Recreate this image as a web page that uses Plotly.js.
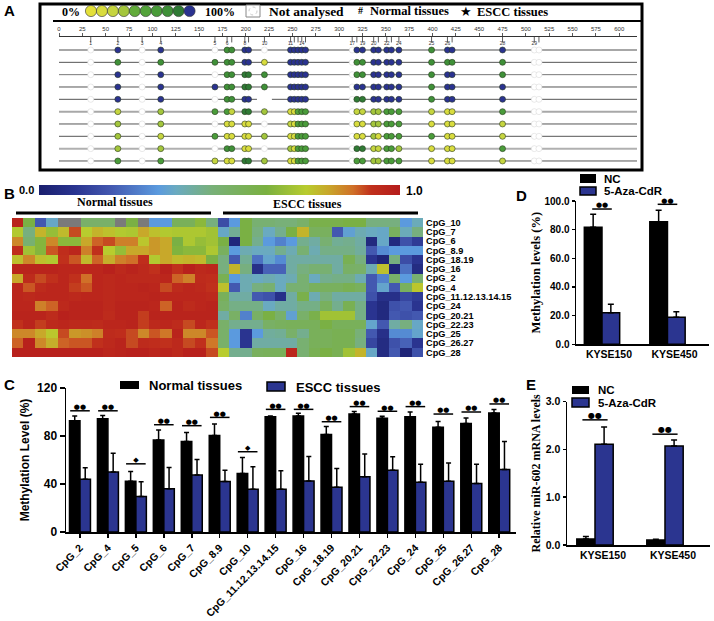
<!DOCTYPE html>
<html><head><meta charset="utf-8">
<script src="https://cdn.plot.ly/plotly-3.0.1.min.js"></script>
<style>html,body{margin:0;padding:0;background:#fff}</style></head>
<body><div id="chart" style="width:714px;height:621px"></div>
<script>
const W=714,H=621;
/* ---- Panel A data ---- */
const sites=[34,63,89,109,167,180,185,199,203,220,248,252,256,260,264,314,319,325,337,342,351,356,364,399,416,421,475,509,514];
const siteLabels=['1','2','3','4','5','6','','8','','10','11','','','14','','17','','19','20','','22','','24','25','26','','28','29',''];
const N=-1,X=null;
const lolliRows=[
[N,9,N,9,N,7,7,9,9,N,9,9,9,9,9,N,9,9,9,9,9,9,9,7,9,9,9,N,N],
[N,7,N,7,7,7,7,9,9,1,9,9,9,9,9,N,7,7,9,9,9,9,9,7,7,7,7,N,N],
[N,9,N,9,N,7,7,8,8,7,9,9,9,9,9,N,7,7,9,9,9,9,9,7,9,9,7,N,N],
[N,9,N,9,9,7,7,8,8,7,9,9,9,9,9,N,9,9,9,9,9,9,9,7,9,9,9,N,N],
[N,9,N,9,N,7,7,9,9,X,9,9,9,9,9,N,8,8,9,9,9,9,9,7,9,9,9,N,N],
[N,2,N,3,6,6,2,8,8,3,1,1,5,6,6,N,2,2,3,3,6,6,6,2,1,1,6,N,N],
[N,3,N,3,N,1,1,1,1,N,2,1,6,6,6,N,1,1,3,3,6,6,6,1,1,1,2,N,N],
[N,3,N,2,6,1,1,1,1,3,1,1,6,6,6,N,1,1,3,1,6,6,6,6,1,1,2,N,N],
[N,3,N,3,N,7,7,1,1,N,3,1,6,6,6,N,8,8,2,2,6,6,3,1,1,1,6,N,N],
[N,6,N,6,2,1,1,8,8,3,1,1,6,6,6,N,6,6,3,3,6,6,6,1,1,1,2,N,N]];
const rowMarks=['#','#','#','#','#','★','★','★','★','★'];
const rowGrey=['#8a8a8a','#555','#777','#555','#555','#a8a8a8','#555','#555','#b0b0b0','#555'];
const rowWidth=[1.5,1,1,1,1,2,1,1,2,1];
const methPalette=['#e4e03a','#d9dc3e','#c6d53f','#a4c63c','#62ab3a','#53a33a','#4a9c3a','#3f9038','#2f7a35','#2a3290'];
/* ---- Panel B data ---- */
const cpgB=['CpG_10','CpG_7','CpG_6','CpG_8.9','CpG_18.19','CpG_16','CpG_2','CpG_4','CpG_11.12.13.14.15','CpG_24','CpG_20.21','CpG_22.23','CpG_25','CpG_26.27','CpG_28'];
const normalZ=[
[.97,.62,.2,.37,X,X,.52,.52,.52,X,.62,X,.33,.33,.56,.56,.66,.47],
[.73,.47,.78,.68,.77,.9,.74,.78,.76,.73,.72,.8,.76,.73,.72,.72,.72,.7],
[.84,.5,.65,.84,.66,.66,.8,.88,.9,.85,.85,.75,.82,.8,.62,.72,.68,.7],
[.93,.7,.65,.89,.93,.96,.85,.92,.74,.68,.8,.8,.82,.8,.64,.66,.66,.72],
[.76,.84,.76,.73,.92,.89,.77,.88,.79,.85,.87,.93,.73,.8,.77,.78,.77,.62],
[.97,.97,.97,.97,.96,.96,.96,.96,.98,.95,.97,.95,.92,.98,.92,.98,.95,.96],
[.8,.94,.9,.92,.96,.92,.87,.96,.95,.96,.95,.95,.95,.96,.88,.85,.94,.93],
[.96,.89,.94,.96,.96,.91,.89,.96,.95,.96,.96,.97,.96,.9,.94,.96,.95,.92],
[.96,.95,.96,.96,.96,.95,.96,.96,.95,.96,.96,.96,.97,.96,.96,.96,.96,.95],
[.96,.96,.85,.88,.95,.97,.97,.97,.95,.97,.97,.97,.96,.88,.97,.94,.96,.97],
[.97,.97,.97,.94,.98,.97,.97,.97,.94,.97,.97,.91,.97,.97,.97,.97,.97,.97],
[.92,.97,.91,.95,.96,.95,.95,.94,.96,.96,.97,.91,.95,.96,.94,.9,.96,.92],
[.84,.84,.8,.75,.9,.82,.83,.85,.94,.93,.9,.84,.89,.86,.97,.84,.84,.89],
[.88,.98,.84,.79,.88,.89,.89,.92,.95,.97,.9,.94,.93,.92,.95,.9,.92,.86],
[.98,.98,.98,.98,.98,.98,.98,.98,.96,.97,.98,.98,.96,.97,.95,.98,.98,.9]];
const esccZ=[
[.17,.33,.62,.5,.5,.48,.48,.52,.6,.6,.6,.62,.62,.47,.47,.47,.33,.39],
[.37,.44,.62,.47,.38,.45,.62,.78,.55,.55,.2,.35,.4,.38,.37,.55,.39,.47],
[.62,.04,.62,.45,.33,.28,.33,.45,.42,.5,.44,.45,.42,.05,.37,.05,.18,.12],
[.55,.33,.4,.38,.38,.45,.4,.5,.4,.46,.46,.46,.43,.2,.3,.33,.33,.33],
[.47,.2,.44,.25,.36,.3,.42,.42,.42,.42,.42,.58,.47,.1,.03,.47,.17,.1],
[.47,.78,.47,.08,.22,.22,.42,.47,.5,.5,.42,.53,.52,.4,.76,.03,.25,.06],
[.58,.33,.4,.38,.4,.38,.4,.5,.38,.45,.46,.46,.4,.2,.28,.52,.33,.5],
[.76,.2,.4,.47,.5,.38,.5,.5,.55,.55,.55,.58,.55,.2,.36,.2,.55,.75],
[.56,.42,.42,.2,.18,.08,.42,.6,.4,.47,.42,.42,.42,.18,.08,.08,.15,.12],
[.53,.46,.46,.46,.38,.42,.42,.46,.46,.55,.45,.58,.46,.1,.05,.18,.2,.1],
[.42,.53,.28,.53,.62,.52,.35,.52,.6,.7,.7,.7,.46,.1,.05,.2,.18,.2],
[.52,.45,.45,.45,.53,.55,.56,.56,.56,.62,.56,.56,.56,.36,.2,.42,.47,.37],
[.52,.33,.1,.33,.43,.44,.52,.45,.56,.56,.58,.58,.48,.2,.08,.3,.3,.36],
[.52,.33,.1,.42,.42,.42,.42,.5,.56,.56,.58,.58,.47,.15,.06,.18,.22,.1],
[.74,.45,.45,.55,.56,.56,.96,.5,.58,.62,.58,.7,.78,.37,.06,.2,.03,.18]];
const heatScale=[[0,'#1a1f6e'],[.1,'#2a3490'],[.2,'#4358b0'],[.33,'#5b9ade'],[.38,'#6aaac0'],[.48,'#78b078'],[.63,'#7ab040'],[.74,'#b8cc2e'],[.8,'#c8a82a'],[.87,'#d07028'],[.92,'#c0301c'],[1,'#b51c1c']];
/* ---- Panel C data ---- */
const cpgC=['CpG_2','CpG_4','CpG_5','CpG_6','CpG_7','CpG_8.9','CpG_10','CpG_11.12.13.14.15','CpG_16','CpG_18.19','CpG_20.21','CpG_22.23','CpG_24','CpG_25','CpG_26.27','CpG_28'];
const normalMeth=[92.8,94.4,42.3,76.6,75.5,80.5,48.7,96,96.7,81.3,98.3,94.7,96,87.2,90.5,99.2];
const normalErr=[3.9,2.6,8.1,8.4,7.5,9.5,13.3,.7,2.3,6.7,2.2,1.7,4,4.8,4.5,2.8];
const esccMeth=[44,50,29.5,36,47.4,42,35.7,35.7,42.6,37.3,46,51.5,41.5,42.3,40.4,52];
const esccErr=[9.5,15.7,12.3,17.8,13,9.5,18.6,15.3,20.4,15.7,19,11.2,15,15.1,16.1,23.4];
const sigC=[101,101,56.8,89.4,88.6,95.5,66.9,102.2,102.2,91.9,104.5,100.6,104.5,98.3,100,106.7];
const sigCMark=['●●','●●','◆','●●','●●','●●','◆','●●','●●','●●','●●','●●','●●','●●','●●','●●'];
/* ---- Panels D, E data ---- */
const lines=['KYSE150','KYSE450'];
const ncD=[81.6,85.6],ncDErr=[9.1,7.9],azaD=[22.1,18.8],azaDErr=[5.8,4],sigD=[94.4,97.7];
const ncE=[.126,.105],ncEErr=[.05,.015],azaE=[2.11,2.07],azaEErr=[.36,.13],sigE=[2.62,2.32];

/* ---- helpers ---- */
const NAVY='#2b3590';
const px=x=>x/W, py=y=>1-y/H;
const sans='"Liberation Sans",Arial,sans-serif', serif='"Liberation Serif","Times New Roman",serif';
const T=(x,y,text,size,o={})=>({xref:'paper',yref:'paper',x:px(x),y:py(y),text,showarrow:false,xanchor:o.anchor||'left',yanchor:'middle',
  font:{family:o.family||sans,size,color:o.color||'#000',weight:o.weight===undefined?700:o.weight},borderpad:0,textangle:o.angle||0});
const R=(x0,y0,x1,y1,fill,lw=0,lc='#000')=>({type:'rect',xref:'paper',yref:'paper',x0:px(x0),x1:px(x1),y0:py(y0),y1:py(y1),fillcolor:fill,line:{width:lw,color:lc}});
const L=(x0,y0,x1,y1,w)=>({type:'line',xref:'paper',yref:'paper',x0:px(x0),x1:px(x1),y0:py(y0),y1:py(y1),line:{width:w,color:'#000'}});
const C=(cx,cy,r,fill,lc,lw,dash)=>({type:'circle',xref:'paper',yref:'paper',x0:px(cx-r),x1:px(cx+r),y0:py(cy+r),y1:py(cy-r),fillcolor:fill,line:{color:lc,width:lw,dash:dash||'solid'}});
const dom=(a,b)=>[a/W,b/W], vdom=(a,b)=>[1-b/H,1-a/H];

const traces=[];
/* A */
lolliRows.forEach((r,i)=>{
  const brk=r.indexOf(null);
  const lx=brk<0?[0,619]:[0,sites[brk]-8,null,sites[brk]+8,619];
  traces.push({type:'scatter',mode:'lines',x:lx,y:lx.map(v=>v===null?null:i+1),xaxis:'x',yaxis:'y',line:{color:rowGrey[i],width:rowWidth[i]},hoverinfo:'skip',showlegend:false});
});
lolliRows.forEach((r,i)=>{
  traces.push({type:'scatter',mode:'markers',x:sites,y:r.map(v=>v===null?null:i+1),xaxis:'x',yaxis:'y',showlegend:false,
    marker:{size:6,color:r.map(v=>v===N||v===null?'#ffffff':methPalette[v]),line:{width:r.map(v=>v===N?.6:.6),color:r.map(v=>v===N?'#dadada':'#2a3a20')}}});
});
traces.push({type:'scatter',mode:'markers',x:sites,y:sites.map(()=>0.16),xaxis:'x',yaxis:'y',showlegend:false,hoverinfo:'skip',
  marker:{symbol:'line-ns',size:4,line:{width:.8,color:'#333'}}});
traces.push({type:'scatter',mode:'text',x:sites,y:sites.map(()=>.5),text:siteLabels,xaxis:'x',yaxis:'y',showlegend:false,hoverinfo:'skip',
  textposition:'middle center',textfont:{size:5,family:sans,color:'#333'},cliponaxis:false});
traces.push({type:'scatter',mode:'text',x:rowMarks.map(()=>-9.5),y:rowMarks.map((m,i)=>i+1),text:rowMarks,xaxis:'x',yaxis:'y',showlegend:false,hoverinfo:'skip',
  textposition:'middle center',textfont:{size:11,family:'"DejaVu Sans"',color:'#000'},cliponaxis:false});
/* B */
traces.push({type:'heatmap',xaxis:'x2',yaxis:'y2',y:cpgB,x:normalZ[0].concat(esccZ[0]).map((_,i)=>i),
  z:normalZ.map((r,i)=>r.concat(esccZ[i])),zmin:0,zmax:1,colorscale:heatScale,hoverongaps:false,
  colorbar:{orientation:'h',x:px(39),xanchor:'left',y:py(195),yanchor:'bottom',len:361,lenmode:'pixels',thickness:10,xpad:0,ypad:0,outlinewidth:0,borderwidth:0,showticklabels:false,ticks:''}});
/* bars */
function barPair(xa,ya,cats,v1,e1,v2,e2,w,errw){
  const mk=(v,e,col,off)=>({type:'bar',x:cats,y:v,width:w,offset:off,xaxis:xa,yaxis:ya,showlegend:false,
    marker:{color:col,line:{color:'#000',width:1.5}},
    error_y:{type:'data',symmetric:false,array:e,arrayminus:e.map(()=>0),color:'#000',thickness:1.5,width:errw}});
  traces.push(mk(v1,e1,'#000',-w),mk(v2,e2,NAVY,0));
}
function sig(xa,ya,cats,lv,marks,len,fs){
  traces.push({type:'scatter',mode:'markers',x:cats,y:lv,xaxis:xa,yaxis:ya,showlegend:false,hoverinfo:'skip',cliponaxis:false,
    marker:{symbol:'line-ew',size:len,line:{width:1.5,color:'#000'}}});
  traces.push({type:'scatter',mode:'text',x:cats,y:lv,text:marks,xaxis:xa,yaxis:ya,showlegend:false,hoverinfo:'skip',cliponaxis:false,
    textposition:'top center',textfont:{size:fs,family:'"DejaVu Sans"',color:'#000'}});
}
barPair('x3','y3',cpgC,normalMeth,normalErr,esccMeth,esccErr,.375,2.5);
sig('x3','y3',cpgC,sigC,sigCMark,14,7);
barPair('x4','y4',lines,ncD,ncDErr,azaD,azaDErr,.27,3);
sig('x4','y4',lines,sigD,['●●','●●'],14,7);
barPair('x5','y5',lines,ncE,ncEErr,azaE,azaEErr,.26,3);
sig('x5','y5',lines,sigE,['●●','●●'],18,8);

/* layout */
const hidden={visible:false,showgrid:false,zeroline:false};
const yBold=s=>({family:sans,size:s,color:'#000',weight:700});
const barY=(dm,rng,vals,txt,fs,tl,titleText,tfam,tsize,st,anchor)=>({domain:dm,range:rng,anchor,tickvals:vals,ticktext:txt,tickfont:yBold(fs),showgrid:false,zeroline:false,
  showline:true,linecolor:'#000',linewidth:1.5,ticks:'outside',ticklen:tl,tickwidth:1.5,tickcolor:'#000',
  title:{text:titleText,font:{family:tfam,size:tsize,color:'#000',weight:700},standoff:st}});
const layout={width:W,height:H,margin:{l:0,r:0,t:0,b:0},paper_bgcolor:'#fff',plot_bgcolor:'rgba(0,0,0,0)',barmode:'overlay',showlegend:false,
 xaxis:{domain:dom(59,637),range:[0,619],anchor:'y',side:'top',dtick:25,tick0:0,ticks:'outside',ticklen:3,tickwidth:.8,tickcolor:'#333',showline:true,linecolor:'#333',linewidth:1,
   showgrid:false,zeroline:false,tickfont:{size:6,family:sans,color:'#333'}},
 yaxis:{domain:vdom(37,168),range:[10.57,-.054],anchor:'x',...hidden},
 xaxis2:{domain:dom(12,423),range:[-.5,35.5],anchor:'y2',...hidden},
 yaxis2:{domain:vdom(218,357),autorange:'reversed',anchor:'x2',side:'right',type:'category',dtick:1,tickmode:'linear',showgrid:false,zeroline:false,ticks:'',ticklen:0,ticklabelstandoff:2,
   tickfont:yBold(9.2),automargin:false},
 xaxis3:{domain:dom(66,516),range:[-.5,15.6],anchor:'y3',type:'category',categoryorder:'array',categoryarray:cpgC,tickangle:-45,tickfont:yBold(10.5),showgrid:false,zeroline:false,
   showline:true,linecolor:'#000',linewidth:1.5,ticks:'outside',ticklen:4,tickwidth:1.5,tickcolor:'#000'},
 yaxis3:barY(vdom(388,532),[0,120],[0,40,80,120],['0','40','80','120'],12,5,'Methylation Level (%)',sans,12,5,'x3'),
 xaxis4:{domain:dom(576,709),range:[-.397,1.634],anchor:'y4',type:'category',tickfont:yBold(10.5),ticklabelshift:7,ticks:'',showgrid:false,zeroline:false,showline:true,linecolor:'#000',linewidth:1.5},
 yaxis4:barY(vdom(201,344.3),[0,100],[0,20,40,60,80,100],['0.0','20.0','40.0','60.0','80.0','100.0'],10,3,'Methylation levels (%)',serif,12.5,1,'x4'),
 xaxis5:{domain:dom(567,710),range:[-.4,1.643],anchor:'y5',type:'category',tickfont:yBold(10.5),ticklabelshift:8,ticks:'',showgrid:false,zeroline:false,showline:true,linecolor:'#000',linewidth:1.5},
 yaxis5:barY(vdom(401.7,545),[0,3],[0,1,2,3],['0.0','1.0','2.0','3.0'],10.5,3,'Relative miR-602 mRNA levels',serif,12,2,'x5'),
 shapes:[
  R(40,4,642,170,'rgba(0,0,0,0)',3),
  L(53,21,642,21,2),
  ...methPalette.map((c,i)=>C(91+i*10.95,11,5.6,c,'#333',.6)),
  R(246,5,260,17,'#fff',1,'#888'),
  C(253,11,4,'#fff','#bbb',.8,'dot'),
  {type:'rect',xref:'x2 domain',yref:'y2 domain',x0:0,x1:.5,y0:.9,y1:1,fillcolor:'#7a7a7a',line:{width:0},layer:'below'},
  L(16,213,211,213,3), L(223,213,418,213,3),
  R(120,381,139,389,'#000'), R(267,382,285,391,NAVY,1.5),
  R(580,174,596,183,'#000'), R(580,187,596,195,NAVY,1.5),
  R(572,386,589,394,'#000'), R(572,398,589,407,NAVY,1.5)
 ],
 annotations:[
  T(3,11,'A',15),T(3,193,'B',15),T(3,384,'C',15),T(515,195,'D',15),T(525,384,'E',15),
  T(61,12,'0%',12,{family:serif}),T(204,12,'100%',12,{family:serif}),
  T(268,12,'Not analysed',13.5,{family:serif}),T(357,11,'#',10,{family:serif}),
  T(369,11,'Normal tissues',12.5,{family:serif}),T(459,12,'★',13,{family:'"DejaVu Sans"'}),T(476,12,'ESCC tissues',12.5,{family:serif}),
  T(18,190,'0.0',11),T(405,191,'1.0',12),
  T(115,202,'Normal tissues',12,{family:serif,anchor:'center'}),T(307,204,'ESCC tissues',12,{family:serif,anchor:'center'}),
  T(148,385,'Normal tissues',13),T(295,387,'ESCC tissues',13),
  T(603,179,'NC',11.5),T(603,191,'5-Aza-CdR',11.5),
  T(597,390,'NC',11.5),T(597,403,'5-Aza-CdR',11.5)
 ]};
Plotly.newPlot('chart',traces,layout,{displayModeBar:false,staticPlot:true});
</script></body></html>
